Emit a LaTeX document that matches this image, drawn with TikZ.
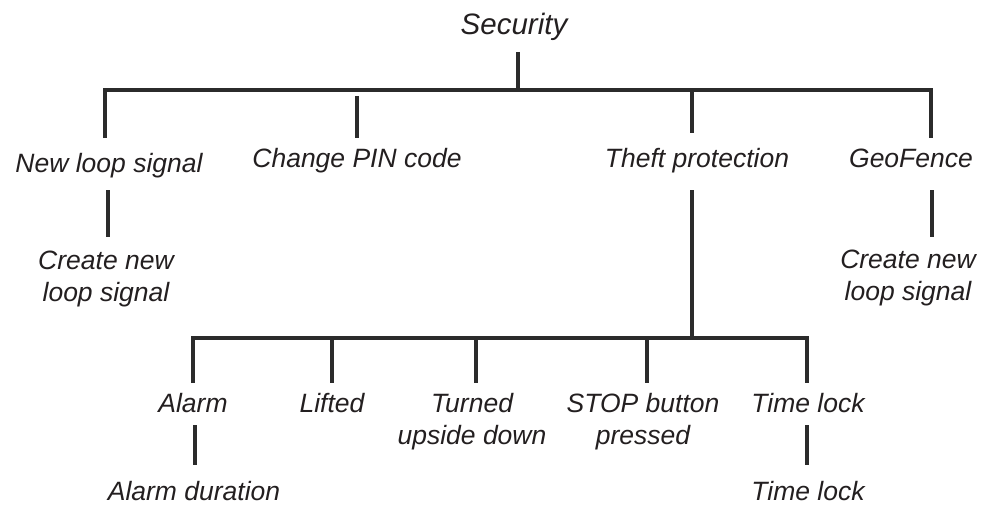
\documentclass[tikz,border=0pt]{standalone}
\usepackage{fontspec}
\setmainfont{Liberation Sans}
\definecolor{ln}{HTML}{2B2B2B}
\definecolor{txt}{HTML}{231F20}
\begin{document}
\begin{tikzpicture}[x=1pt,y=-1pt,
  lbl/.style={font=\fontsize{26.5}{31.5}\selectfont\itshape, text=txt, inner sep=0pt, anchor=base, align=center},
  toplbl/.style={lbl, font=\fontsize{29.5}{34}\selectfont\itshape},
  conn/.style={draw=ln, line width=3.2pt}]
\useasboundingbox (0,0) rectangle (984,508);
% labels (anchor=base: baseline of the last line)
\node[toplbl] (sec) at (514,35) {Security};
\node[lbl] (nls) at (109,172) {New loop signal};
\node[lbl] (pin) at (357,167) {Change PIN code};
\node[lbl] (thp) at (697,167) {Theft protection};
\node[lbl] (geo) at (911,167) {GeoFence};
\node[lbl] (cn1) at (106,301) {Create new\\loop signal};
\node[lbl] (cn2) at (908,300) {Create new\\loop signal};
\node[lbl] (alm) at (193,412) {Alarm};
\node[lbl] (lft) at (332,412) {Lifted};
\node[lbl] (tud) at (472,444) {Turned\\upside down};
\node[lbl] (stp) at (643,444) {STOP button\\pressed};
\node[lbl] (tl1) at (808,412) {Time lock};
\node[lbl] (ald) at (194,500) {Alarm duration};
\node[lbl] (tl2) at (808,500) {Time lock};
% junction coordinates
\coordinate (s0) at (518,52);
\coordinate (s1) at (518,90);
\coordinate (bL) at (105,90);
\coordinate (bR) at (931,90);
\coordinate (nA) at (105,138);
\coordinate (pA) at (357,96);
\coordinate (pB) at (357,138);
\coordinate (tA) at (692,90);
\coordinate (tB) at (692,133);
\coordinate (gA) at (931,138);
\coordinate (c1a) at (108,190);
\coordinate (c1b) at (108,237);
\coordinate (c2a) at (932,190);
\coordinate (c2b) at (932,237);
\coordinate (tC) at (692,190);
\coordinate (tD) at (692,338);
\coordinate (lL) at (193,338);
\coordinate (lR) at (807,338);
\coordinate (aA) at (193,383);
\coordinate (fT) at (332,338);
\coordinate (fA) at (332,383);
\coordinate (uT) at (476,338);
\coordinate (uA) at (476,383);
\coordinate (sT) at (647,338);
\coordinate (sA) at (647,383);
\coordinate (mA) at (807,383);
\coordinate (adA) at (195,425);
\coordinate (adB) at (195,465);
\coordinate (tlA) at (807,425);
\coordinate (tlB) at (807,465);
% connectors
\draw[conn] (s0) -- (s1);
\draw[conn, line join=miter] (nA) -- (bL) -- (bR) -- (gA);
\draw[conn] (pA) -- (pB);
\draw[conn] (tA) -- (tB);
\draw[conn] (c1a) -- (c1b);
\draw[conn] (c2a) -- (c2b);
\draw[conn] (tC) -- (tD);
\draw[conn, line join=miter] (aA) -- (lL) -- (lR) -- (mA);
\draw[conn] (fT) -- (fA);
\draw[conn] (uT) -- (uA);
\draw[conn] (sT) -- (sA);
\draw[conn] (adA) -- (adB);
\draw[conn] (tlA) -- (tlB);
\end{tikzpicture}
\end{document}
